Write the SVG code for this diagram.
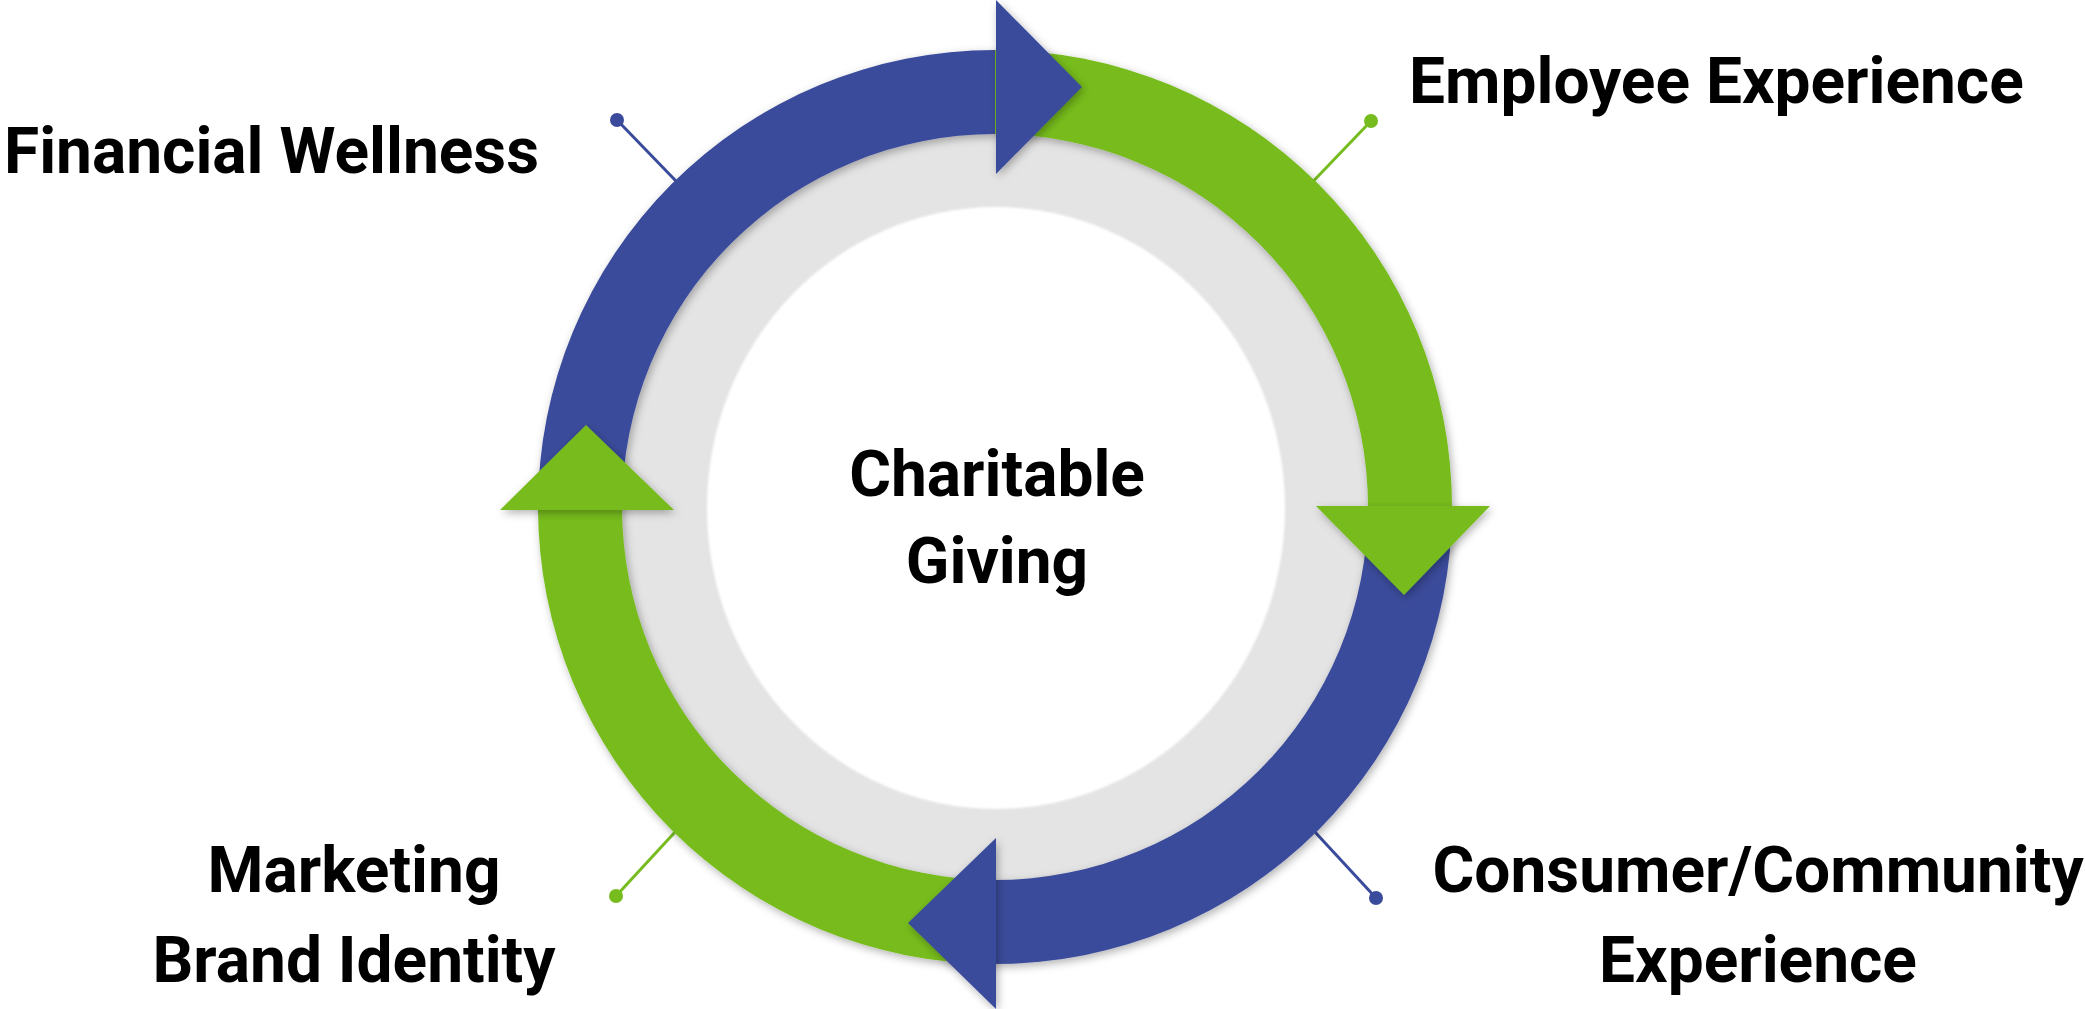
<svg xmlns="http://www.w3.org/2000/svg" width="2085" height="1009" viewBox="0 0 2085 1009">
  <defs>
    <filter id="sh" x="-10%" y="-10%" width="120%" height="120%">
      <feDropShadow dx="2" dy="3" stdDeviation="4" flood-color="#000" flood-opacity="0.3"/>
    </filter>
    <filter id="soft" x="-10%" y="-10%" width="120%" height="120%">
      <feGaussianBlur stdDeviation="0.8"/>
    </filter>
  </defs>
  <style>
    .blue{fill:#3b4b9b}
    .green{fill:#77bc1f}
    .lbl{font-family:Roboto,"Liberation Sans",sans-serif;font-weight:700;font-size:64px;fill:#000}
    .lb{stroke:#3b4b9b;stroke-width:3;fill:none}
    .lg{stroke:#77bc1f;stroke-width:3;fill:none}
  </style>
  <rect width="2085" height="1009" fill="#fff"/>

  <g id="ring">
    <circle cx="995" cy="507" r="410" fill="#e4e4e4"/>
    <ellipse cx="996" cy="508" rx="289" ry="301" fill="#fff" filter="url(#soft)"/>
  </g>

  <g id="connectors">
    <line class="lb" x1="617" y1="120" x2="733" y2="240"/>
    <circle cx="617" cy="120" r="7" fill="#3b4b9b"/>
    <line class="lg" x1="1371" y1="121" x2="1257" y2="240"/>
    <circle cx="1371" cy="121" r="7" fill="#77bc1f"/>
    <line class="lb" x1="1376" y1="898" x2="1290" y2="805"/>
    <circle cx="1376" cy="898" r="7" fill="#3b4b9b"/>
    <line class="lg" x1="616" y1="896" x2="700" y2="805"/>
    <circle cx="616" cy="896" r="7" fill="#77bc1f"/>
  </g>

  <g id="arrow-shafts" filter="url(#sh)">
    <path id="shaft-financial" class="blue" d="M538,513 L538,507 A457,457 0 0 1 995,50 L995,134 A373,373 0 0 0 622,507 L622,513 Z"/>
    <path id="shaft-employee" class="green" d="M995,50 A457,457 0 0 1 1452,507 L1368,507 A373,373 0 0 0 995,134 Z"/>
    <path id="shaft-consumer" class="blue" d="M1452,507 A457,457 0 0 1 995,964 L995,880 A373,373 0 0 0 1368,507 Z"/>
    <path id="shaft-marketing" class="green" d="M995,964 A457,457 0 0 1 538,507 L622,507 A373,373 0 0 0 995,880 Z"/>
  </g>

  <g id="arrow-heads" filter="url(#sh)">
    <polygon id="head-top" class="blue" points="996,0 1082,87 996,174"/>
    <polygon id="head-right" class="green" points="1316,506 1490,506 1404,595"/>
    <polygon id="head-bottom" class="blue" points="996,838 996,1009 908,923"/>
    <polygon id="head-left" class="green" points="500,510 674,510 586,425"/>
  </g>

  <g id="node-center">
    <text class="lbl" x="997" y="496" text-anchor="middle">Charitable</text>
    <text class="lbl" x="997" y="583" text-anchor="middle">Giving</text>
  </g>
  <g id="node-financial">
    <text class="lbl" x="4" y="173">Financial Wellness</text>
  </g>
  <g id="node-employee">
    <text class="lbl" x="1409" y="103">Employee Experience</text>
  </g>
  <g id="node-consumer">
    <text class="lbl" x="1758" y="892" text-anchor="middle">Consumer/Community</text>
    <text class="lbl" x="1758" y="982" text-anchor="middle">Experience</text>
  </g>
  <g id="node-marketing">
    <text class="lbl" x="354" y="892" text-anchor="middle">Marketing</text>
    <text class="lbl" x="354" y="982" text-anchor="middle">Brand Identity</text>
  </g>
</svg>
